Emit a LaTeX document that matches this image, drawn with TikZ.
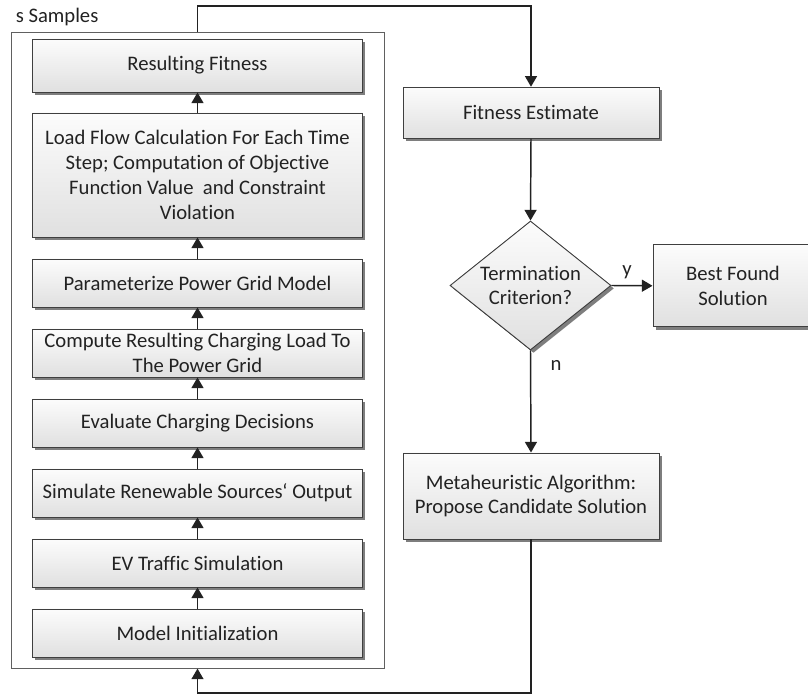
\documentclass[tikz,border=0pt]{standalone}
\usepackage{fontspec}
\setmainfont{Carlito}[Ligatures=NoCommon]
\usetikzlibrary{shapes.geometric,shadows,arrows.meta}
\definecolor{ink}{HTML}{222222}
\definecolor{edgegray}{HTML}{3F3F3F}
\definecolor{framegray}{HTML}{606060}
\definecolor{shadegray}{HTML}{7E7E7E}
\definecolor{boxtop}{HTML}{FCFCFC}
\definecolor{boxbot}{HTML}{E0E0E0}
\newcommand\diagfont{\fontsize{15.5pt}{18.6pt}\selectfont}
\tikzset{
  stepbox/.style={draw=edgegray, line width=0.7pt, top color=boxtop, bottom color=boxbot,
    drop shadow={shadow xshift=2.2pt, shadow yshift=-2.2pt, fill=shadegray, opacity=1},
    align=center, inner sep=0pt, text=ink, font=\diagfont},
  leftbox/.style={stepbox, minimum width=247.5pt},
  rightbox/.style={stepbox, minimum width=192pt},
  decision/.style={stepbox, diamond, minimum width=120.75pt, minimum height=96.75pt},
  samplebox/.style={draw=framegray, line width=0.75pt, fill=none, inner sep=0pt,
    minimum width=279.75pt, minimum height=476.5pt},
  flow/.style={draw=ink, line width=1.1pt, -{Triangle[length=8pt,width=9pt]}},
  tag/.style={text=ink, font=\diagfont, inner sep=0pt}
}
\begin{document}
\begin{tikzpicture}[x=0.75pt,y=-0.75pt]
  \clip (0,0) rectangle (808,698);

  % sample frame and its caption
  \node[samplebox] (frame) at (197.5,350.4) {};
  \node[tag, anchor=base west] (samples) at (15.5,23) {s Samples};

  % simulation steps inside the frame
  \node[leftbox, minimum height=39.75pt] (fit)   at (197.5,65.5) {Resulting Fitness};
  \node[leftbox, minimum height=93pt]    (load)  at (197.5,175)
    {Load Flow Calculation For Each Time\\Step; Computation of Objective\\Function Value\ \ and Constraint\\Violation};
  \node[leftbox, minimum height=36pt] (param)   at (197.5,283) {Parameterize Power Grid Model};
  \node[leftbox, minimum height=36pt] (charge)  at (197.5,353) {Compute Resulting Charging Load To\\The Power Grid};
  \node[leftbox, minimum height=36pt] (eval)    at (197.5,423) {Evaluate Charging Decisions};
  \node[leftbox, minimum height=36pt] (renew)   at (197.5,493) {Simulate Renewable Sources‘ Output};
  \node[leftbox, minimum height=36pt] (traffic) at (197.5,563) {EV Traffic Simulation};
  \node[leftbox, minimum height=36pt] (init)    at (197.5,633) {Model Initialization};

  % optimisation loop on the right
  \node[rightbox, minimum height=38.25pt] (estimate) at (531,112.7) {Fitness Estimate};
  \node[decision] (term) at (530.5,285.5) {};
  \node[tag, align=center] (termtext) at (530.5,285.5) {Termination\\Criterion?};
  \node[stepbox, minimum width=120pt, minimum height=61.3pt] (best) at (733,285.8) {Best Found\\Solution};
  \node[rightbox, minimum height=64.5pt] (meta) at (531,496) {Metaheuristic Algorithm:\\Propose Candidate Solution};

  % arrows within the frame
  \draw[flow] (init.north)    -- (traffic.south);
  \draw[flow] (traffic.north) -- (renew.south);
  \draw[flow] (renew.north)   -- (eval.south);
  \draw[flow] (eval.north)    -- (charge.south);
  \draw[flow] (charge.north)  -- (param.south);
  \draw[flow] (param.north)   -- (load.south);
  \draw[flow] (load.north)    -- (fit.south);

  % loop connectors
  \coordinate (looptop) at (531,6);
  \coordinate (loopbottom) at (531,693);
  \draw[flow] (frame.north) |- (looptop) -- (estimate.north);
  \draw[flow] (estimate.south) -- (term.north);
  \draw[flow] (term.east) -- (best.west);
  \node[tag, anchor=base] (yeslabel) at (627,276) {y};
  \draw[flow] (term.south) -- (meta.north);
  \node[tag, anchor=base] (nolabel) at (556,370.5) {n};
  \draw[flow] (meta.south) -- (loopbottom) -| (frame.south);
\end{tikzpicture}
\end{document}
